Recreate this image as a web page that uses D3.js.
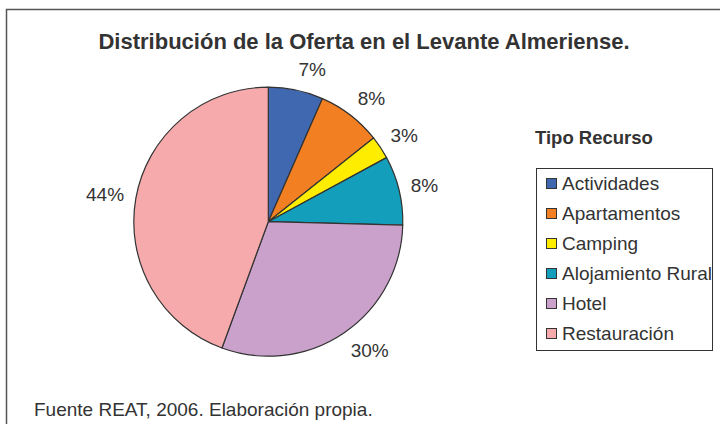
<!DOCTYPE html>
<html>
<head>
<meta charset="utf-8">
<script src="https://cdn.jsdelivr.net/npm/d3@7"></script>
<style>
  body { margin: 0; background: #fff; }
  text { font-family: "Liberation Sans", Arial, sans-serif; fill: #333; }
</style>
</head>
<body>
<div id="chart"></div>
<script>
// data (percent of total)
const categories = ["Actividades", "Apartamentos", "Camping", "Alojamiento Rural", "Hotel", "Restauración"];
const values = [6.6, 7.7, 2.8, 8.3, 30.2, 44.4];
const labels = ["7%", "8%", "3%", "8%", "30%", "44%"];
const colors = ["#3f68b0", "#f28023", "#ffed00", "#139ebb", "#c9a1cb", "#f6aaab"];

const title = "Distribución de la Oferta en el Levante Almeriense.";
const legendTitle = "Tipo Recurso";
const source = "Fuente REAT, 2006. Elaboración propia.";

var width = 720, height = 424;

var svg = d3.select("#chart")
  .append("svg")
  .attr("width", width)
  .attr("height", height);

// outer frame (runs off the right and bottom edge)
svg.append("rect")
  .attr("x", 6.5)
  .attr("y", 9.5)
  .attr("width", 730)
  .attr("height", 430)
  .attr("fill", "none")
  .attr("stroke", "#555")
  .attr("stroke-width", 1.5);

svg.append("text")
  .attr("x", 364)
  .attr("y", 41)
  .attr("text-anchor", "middle")
  .attr("dominant-baseline", "central")
  .style("font-size", "22px")
  .style("font-weight", "bold")
  .text(title);

// pie
var cx = 268.3, cy = 221.7, radius = 134.5;

var pie = d3.pie().sort(null).value(function(d) { return d; });
var arcs = pie(values);

var arc = d3.arc().innerRadius(0).outerRadius(radius);
var labelArc = d3.arc().innerRadius(146.5).outerRadius(146.5);

var g = svg.append("g")
  .attr("transform", "translate(" + cx + "," + cy + ")");

g.selectAll("path")
  .data(arcs)
  .enter()
  .append("path")
  .attr("d", arc)
  .attr("fill", function(d, i) { return colors[i]; })
  .attr("stroke", "#333")
  .attr("stroke-width", 1.2)
  .attr("stroke-linejoin", "round");

// labels sit just outside the rim, growing away from the pie
function midAngle(d) { return (d.startAngle + d.endAngle) / 2; }

g.selectAll(".lbl")
  .data(arcs)
  .enter()
  .append("text")
  .attr("class", "lbl")
  .attr("x", function(d) { return labelArc.centroid(d)[0]; })
  .attr("y", function(d) { return labelArc.centroid(d)[1] - Math.cos(midAngle(d)) * 9; })
  .attr("text-anchor", function(d) { return Math.sin(midAngle(d)) >= 0 ? "start" : "end"; })
  .attr("dominant-baseline", "central")
  .style("font-size", "19px")
  .text(function(d, i) { return labels[i]; });

// legend
svg.append("text")
  .attr("x", 535)
  .attr("y", 137)
  .attr("dominant-baseline", "central")
  .style("font-size", "18.5px")
  .style("font-weight", "bold")
  .text(legendTitle);

svg.append("rect")
  .attr("x", 536.5)
  .attr("y", 168.5)
  .attr("width", 176)
  .attr("height", 182)
  .attr("fill", "#fff")
  .attr("stroke", "#333")
  .attr("stroke-width", 1);

var y = d3.scalePoint()
  .domain(categories)
  .range([183, 333]);

var items = svg.selectAll(".leg")
  .data(categories)
  .enter()
  .append("g")
  .attr("class", "leg")
  .attr("transform", function(d) { return "translate(546," + y(d) + ")"; });

items.append("rect")
  .attr("x", 0.5)
  .attr("y", -4.5)
  .attr("width", 10)
  .attr("height", 10)
  .attr("fill", function(d, i) { return colors[i]; })
  .attr("stroke", "#333")
  .attr("stroke-width", 1);

items.append("text")
  .attr("x", 16)
  .attr("y", 0)
  .attr("dominant-baseline", "central")
  .style("font-size", "19px")
  .text(function(d) { return d; });

svg.append("text")
  .attr("x", 34)
  .attr("y", 409)
  .attr("dominant-baseline", "central")
  .style("font-size", "19px")
  .text(source);
</script>
</body>
</html>
